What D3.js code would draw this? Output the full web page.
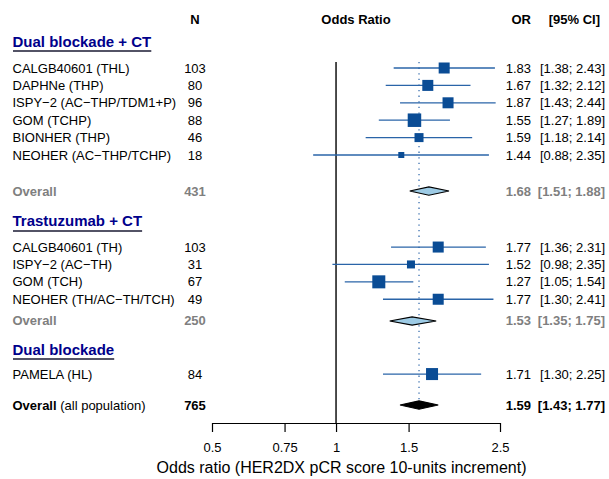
<!DOCTYPE html>
<html>
<head>
<meta charset="utf-8">
<script src="https://cdn.jsdelivr.net/npm/d3@7"></script>
<style>
  body { margin: 0; background: #fff; }
  text { font-family: "Liberation Sans", Arial, sans-serif; }
</style>
</head>
<body>
<div id="forest"></div>
<script>
// DATA
const groupNames = ["Dual blockade + CT", "Trastuzumab + CT", "Dual blockade"];

const studyNames = [
  "CALGB40601 (THL)", "DAPHNe (THP)", "ISPY\u22122 (AC\u2212THP/TDM1+P)", "GOM (TCHP)",
  "BIONHER (THP)", "NEOHER (AC\u2212THP/TCHP)",
  "CALGB40601 (TH)", "ISPY\u22122 (AC\u2212TH)", "GOM (TCH)", "NEOHER (TH/AC\u2212TH/TCH)",
  "PAMELA (HL)"
];
const studyGroup = [0, 0, 0, 0, 0, 0, 1, 1, 1, 1, 2];
const studyN = [103, 80, 96, 88, 46, 18, 103, 31, 67, 49, 84];
const studyOR = [1.83, 1.67, 1.87, 1.55, 1.59, 1.44, 1.77, 1.52, 1.27, 1.77, 1.71];
const studyLo = [1.38, 1.32, 1.43, 1.27, 1.18, 0.88, 1.36, 0.98, 1.05, 1.30, 1.30];
const studyHi = [2.43, 2.12, 2.44, 1.89, 2.14, 2.35, 2.31, 2.35, 1.54, 2.41, 2.25];
const studyWeight = [12.1, 12.1, 12.1, 18.2, 8.1, 3.6, 12.1, 6.4, 16.9, 12.1, 14.4];

const subN = [431, 250];
const subOR = [1.68, 1.53];
const subLo = [1.51, 1.35];
const subHi = [1.88, 1.75];

const totalN = 765;
const totalOR = 1.59, totalLo = 1.43, totalHi = 1.77;

const tickValues = [0.5, 0.75, 1, 1.5, 2.5];

// LAYOUT
const W = 609, H = 479;
const fmt = d3.format(".2f");
const ciText = (lo, hi) => `[${fmt(lo)}; ${fmt(hi)}]`;

const x = d3.scaleLog().domain([0.5, 2.5]).range([212, 500]);
const y = d3.scaleLinear().domain([0, 1]).range([68, 85.4]);   // one study row per unit
const size = d3.scaleSqrt().domain([0, 18.2]).range([0, 13.5]);

// row slots (in study-row units)
const headerSlot = -2.76;
const headSlot = [-1.55, 8.79, 16.15];
const firstStudySlot = [0, 10.29, 17.59];
const overallSlot = [7.07, 14.54];
const totalSlot = 19.37;

const colLabel = 12.5, colN = 195, colOR = 531, colCI = 605;
const axisY = 423;

const svg = d3.select("#forest").append("svg")
  .attr("width", W).attr("height", H);

// study rows
const rows = studyNames.map((name, i) => {
  const g = studyGroup[i];
  const idx = studyGroup.slice(0, i).filter(v => v === g).length;
  return { name, n: studyN[i], or: studyOR[i], lo: studyLo[i], hi: studyHi[i],
           w: studyWeight[i], slot: firstStudySlot[g] + idx };
});

// HEADER
const hdr = svg.append("g").attr("font-weight", "bold").attr("font-size", 13)
  .attr("dominant-baseline", "central");
hdr.append("text").attr("x", colN).attr("y", y(headerSlot)).attr("text-anchor", "middle").text("N");
hdr.append("text").attr("x", x(Math.sqrt(0.5 * 2.5))).attr("y", y(headerSlot)).attr("text-anchor", "middle").text("Odds Ratio");
hdr.append("text").attr("x", colOR).attr("y", y(headerSlot)).attr("text-anchor", "end").text("OR");
hdr.append("text").attr("x", colCI - 5).attr("y", y(headerSlot)).attr("text-anchor", "end").text("[95% CI]");

// GROUP HEADINGS
groupNames.forEach((g, i) => {
  const t = svg.append("text")
    .attr("x", colLabel).attr("y", y(headSlot[i]))
    .attr("dominant-baseline", "central")
    .attr("font-size", 15).attr("font-weight", "bold")
    .style("fill", "#00008B")
    .text(g);
  const bb = t.node().getBBox();
  svg.append("line")
    .attr("x1", bb.x + 0.5).attr("x2", bb.x + bb.width)
    .attr("y1", y(headSlot[i]) + 10).attr("y2", y(headSlot[i]) + 10)
    .style("stroke", "#1a1a33").style("stroke-width", 1.5);
});

// REFERENCE LINES
svg.append("line")
  .attr("x1", x(1)).attr("x2", x(1))
  .attr("y1", y(0) - 6).attr("y2", axisY)
  .style("stroke", "#000").style("stroke-width", 1.4);

svg.append("line")
  .attr("x1", x(totalOR)).attr("x2", x(totalOR))
  .attr("y1", y(0) - 6).attr("y2", y(totalSlot) - 5)
  .style("stroke", "#2a64a8").style("stroke-width", 1.2)
  .style("stroke-dasharray", "1.3,4.3");

// STUDY ROWS
const rg = svg.append("g").attr("font-size", 13).attr("dominant-baseline", "central");
rows.forEach(d => {
  const yy = y(d.slot);
  rg.append("text").attr("x", colLabel).attr("y", yy).text(d.name);
  rg.append("text").attr("x", colN).attr("y", yy).attr("text-anchor", "middle").text(d.n);
  rg.append("text").attr("x", colOR).attr("y", yy).attr("text-anchor", "end").text(fmt(d.or));
  rg.append("text").attr("x", colCI).attr("y", yy).attr("text-anchor", "end").text(ciText(d.lo, d.hi));

  svg.append("line")
    .attr("x1", x(d.lo)).attr("x2", x(d.hi))
    .attr("y1", yy).attr("y2", yy)
    .style("stroke", "#2a64a8").style("stroke-width", 1.3);
  const s = size(d.w);
  svg.append("rect")
    .attr("x", x(d.or) - s / 2).attr("y", yy - s / 2)
    .attr("width", s).attr("height", s)
    .style("fill", "#0a4c95");
});

// DIAMOND
function diamond(or, lo, hi, yy, fill) {
  const pts = [[x(lo), yy], [x(or), yy - 4.2], [x(hi), yy], [x(or), yy + 4.2]];
  svg.append("path")
    .attr("d", d3.line()(pts) + "Z")
    .style("fill", fill).style("stroke", "#000").style("stroke-width", 1.2);
}

// SUBGROUP OVERALLS
subOR.forEach((or, i) => {
  const yy = y(overallSlot[i]);
  const g = svg.append("g").attr("font-size", 13).attr("font-weight", "bold")
    .attr("dominant-baseline", "central").style("fill", "#7f7f7f");
  g.append("text").attr("x", colLabel).attr("y", yy).text("Overall");
  g.append("text").attr("x", colN).attr("y", yy).attr("text-anchor", "middle").text(subN[i]);
  g.append("text").attr("x", colOR).attr("y", yy).attr("text-anchor", "end").text(fmt(or));
  g.append("text").attr("x", colCI).attr("y", yy).attr("text-anchor", "end").text(ciText(subLo[i], subHi[i]));
  diamond(or, subLo[i], subHi[i], yy, "#9dcbe5");
});

// TOTAL
{
  const yy = y(totalSlot);
  const g = svg.append("g").attr("font-size", 13).attr("dominant-baseline", "central").style("fill", "#000");
  const t = g.append("text").attr("x", colLabel).attr("y", yy);
  t.append("tspan").attr("font-weight", "bold").text("Overall");
  t.append("tspan").text(" (all population)");
  g.append("text").attr("x", colN).attr("y", yy).attr("text-anchor", "middle").attr("font-weight", "bold").text(totalN);
  g.append("text").attr("x", colOR).attr("y", yy).attr("text-anchor", "end").attr("font-weight", "bold").text(fmt(totalOR));
  g.append("text").attr("x", colCI).attr("y", yy).attr("text-anchor", "end").attr("font-weight", "bold").text(ciText(totalLo, totalHi));
  diamond(totalOR, totalLo, totalHi, yy, "#000");
}

// X AXIS
const axis = svg.append("g")
  .attr("transform", `translate(0, ${axisY})`)
  .call(d3.axisBottom(x).tickValues(tickValues).tickFormat(d => d)
    .tickSize(9).tickSizeOuter(0).tickPadding(11));
axis.selectAll("text").attr("font-size", 13).style("font-family", "Liberation Sans, Arial, sans-serif").style("fill", "#000");
axis.selectAll("line, path").style("stroke", "#000").style("stroke-width", 1.2);

svg.append("text")
  .attr("x", 341.5).attr("y", 472.5)
  .attr("text-anchor", "middle")
  .attr("font-size", 16)
  .text("Odds ratio (HER2DX pCR score 10-units increment)");
</script>
</body>
</html>
